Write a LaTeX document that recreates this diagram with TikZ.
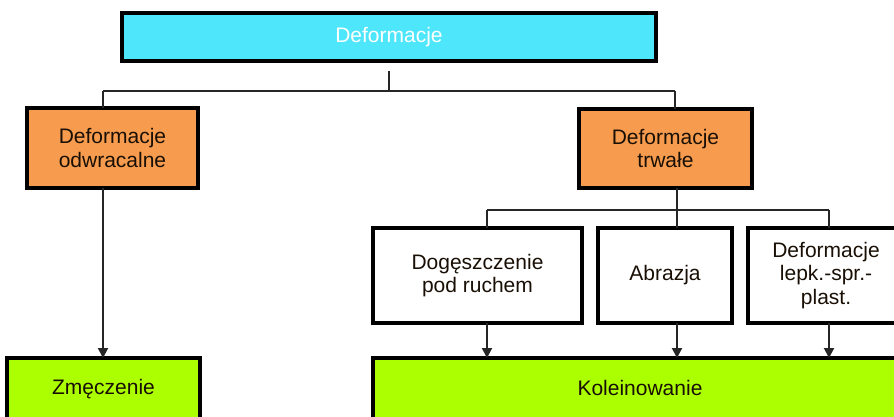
\documentclass[tikz,border=0pt]{standalone}
\usepackage{fontspec}
\setmainfont{Liberation Sans}
\usetikzlibrary{arrows.meta}
\definecolor{cyanbox}{RGB}{77,230,250}
\definecolor{orangebox}{RGB}{247,156,78}
\definecolor{greenbox}{RGB}{172,255,0}
\definecolor{txtdark}{RGB}{25,15,5}
\tikzset{
  boxbase/.style={draw=black, line width=3.5pt, inner sep=0pt, outer sep=0pt, align=center,
    font=\fontsize{21}{23.5}\selectfont, text=txtdark},
  topbox/.style={boxbase, fill=cyanbox, text=white},
  orbox/.style={boxbase, fill=orangebox},
  whbox/.style={boxbase, fill=white},
  grbox/.style={boxbase, fill=greenbox},
  conn/.style={draw=black!85, line width=2pt},
  arr/.style={conn, -{Triangle[length=10pt,width=10pt]}}
}
\begin{document}
\begin{tikzpicture}[x=1pt,y=-1pt]
\useasboundingbox (0,0) rectangle (894,417);
\clip (0,0) rectangle (894,417);
% boxes: centre, width, height
\node[topbox, minimum width=534pt, minimum height=48pt] (top) at (389,37) {Deformacje};
\node[orbox, minimum width=171pt, minimum height=80pt] (odw) at (112.5,148) {Deformacje\\odwracalne};
\node[orbox, minimum width=173pt, minimum height=79pt] (trw) at (665.5,148.5) {Deformacje\\trwałe};
\node[whbox, minimum width=209pt, minimum height=95pt] (dog) at (477.5,275.5) {Dogęszczenie\\pod ruchem};
\node[whbox, minimum width=134pt, minimum height=95pt] (abr) at (665,275.5) {Abrazja};
\node[whbox, minimum width=156pt, minimum height=95pt] (lep) at (826,275.5) {Deformacje\\lepk.-spr.-\\plast.};
\node[grbox, minimum width=193pt, minimum height=62pt] (zme) at (103.5,389) {Zmęczenie};
\node[grbox, minimum width=537pt, minimum height=62pt] (kol) at (641.5,389) {};
\node[font=\fontsize{21}{23.5}\selectfont, text=txtdark] (koltxt) at (640,388) {Koleinowanie};
% junction coordinates
\coordinate (s1) at (389,71);
\coordinate (h1) at (389,91);
\coordinate (hl) at (103,91);
\coordinate (hr) at (675,91);
\coordinate (h2) at (677,210);
\coordinate (h2l) at (487,210);
\coordinate (h2r) at (829,210);
% connectors
\draw[conn] (s1) -- (h1);
\draw[conn] (hl) -- (hr);
\draw[conn] (hl) -- (odw.north -| hl);
\draw[conn] (hr) -- (trw.north -| hr);
\draw[conn] (trw.south -| h2) -- (abr.north -| h2);
\draw[conn] (h2l) -- (h2r);
\draw[conn] (h2l) -- (dog.north -| h2l);
\draw[conn] (h2r) -- (lep.north -| h2r);
\draw[arr] (odw.south -| hl) -- (zme.north -| hl);
\draw[arr] (dog.south -| h2l) -- (kol.north -| h2l);
\draw[arr] (abr.south -| h2) -- (kol.north -| h2);
\draw[arr] (lep.south -| h2r) -- (kol.north -| h2r);
\end{tikzpicture}
\end{document}
